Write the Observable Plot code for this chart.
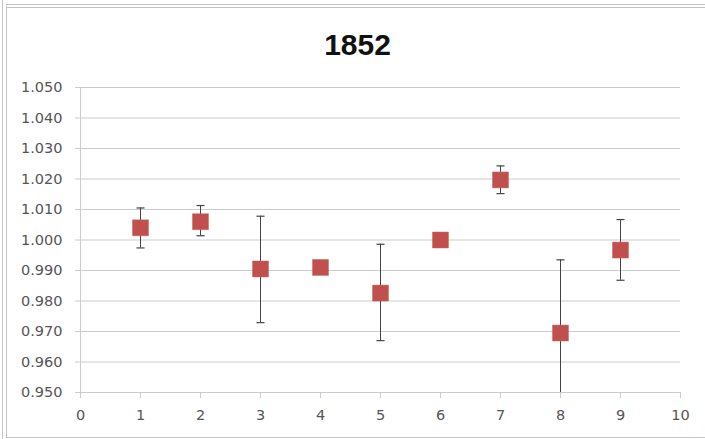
<!DOCTYPE html>
<html>
<head>
<meta charset="utf-8">
<script src="https://cdn.jsdelivr.net/npm/d3@7"></script>
<script src="https://cdn.jsdelivr.net/npm/@observablehq/plot@0.6"></script>
<style>
  html, body { margin: 0; padding: 0; background: #fff; }
  #wrap { position: relative; width: 705px; height: 439px; overflow: hidden; background: #fff; }
  #frame { position: absolute; left: 6px; top: 4px; width: 710px; height: 434px; border: 1px solid #c6c6c6; border-top: 4px double #c0c0c0; box-sizing: border-box; }
  #frame2 { position: absolute; left: 2px; top: 0px; width: 1px; height: 439px; background: #c6c6c6; }
  #title { position: absolute; left: 5px; top: 30px; width: 705px; text-align: center;
           font: bold 30px "Liberation Sans", Arial, sans-serif; line-height: 30px; color: #111; }
  #chart { position: absolute; left: 0; top: 0; }
</style>
</head>
<body>
<div id="wrap">
  <div id="frame2"></div>
  <div id="frame"></div>
  <div id="title">1852</div>
  <div id="chart"></div>
</div>
<script>
const xs = [1, 2, 3, 4, 5, 6, 7, 8, 9];
const values = [1.004, 1.006, 0.9905, 0.991, 0.9826, 1.000, 1.0197, 0.9695, 0.9967];
const errLow = [0.9974, 1.0014, 0.9729, null, 0.9670, null, 1.0152, 0.9455, 0.9868];
const errHigh = [1.0105, 1.0113, 1.0078, null, 0.9986, null, 1.0243, 0.9935, 1.0067];
const yTicks = [0.95, 0.96, 0.97, 0.98, 0.99, 1.00, 1.01, 1.02, 1.03, 1.04, 1.05];
const xTicks = [0, 1, 2, 3, 4, 5, 6, 7, 8, 9, 10];

const data = xs.map((x, i) => ({x, v: values[i], lo: errLow[i], hi: errHigh[i]}));
const errs = data.filter(d => d.lo != null);
const capHalf = 0.067;

const grid = "#cccccc";
const textCol = "#555555";

const chart = Plot.plot({
  width: 705,
  height: 439,
  marginLeft: 80,
  marginRight: 25,
  marginTop: 87,
  marginBottom: 47,
  style: {fontFamily: "'DejaVu Sans', sans-serif", fontSize: "14.5px", color: textCol, background: "transparent"},
  x: {domain: [0, 10], ticks: xTicks},
  y: {domain: [0.95, 1.05], ticks: yTicks},
  marks: [
    Plot.gridY(yTicks, {stroke: grid, strokeOpacity: 1}),
    Plot.axisY(yTicks, {tickFormat: d3.format(".3f"), tickSize: 5, tickPadding: 13, stroke: grid, strokeOpacity: 1, label: null, fill: textCol}),
    Plot.ruleX([0], {stroke: grid}),
    Plot.ruleY([0.95], {stroke: grid}),
    Plot.axisX(xTicks, {tickFormat: d3.format("d"), tickSize: 6, tickPadding: 11, stroke: grid, strokeOpacity: 1, label: null, fill: textCol}),
    Plot.ruleX(errs, {x: "x", y1: "lo", y2: "hi", stroke: "#444", strokeWidth: 1, clip: true}),
    Plot.link(errs, {x1: d => d.x - capHalf, x2: d => d.x + capHalf, y1: "hi", y2: "hi", stroke: "#444", strokeWidth: 1.2, clip: true}),
    Plot.link(errs, {x1: d => d.x - capHalf, x2: d => d.x + capHalf, y1: "lo", y2: "lo", stroke: "#444", strokeWidth: 1.2, clip: true}),
    Plot.dot(data, {x: "x", y: "v", symbol: "square", r: 9, fill: "#c0504d", stroke: "#c9605d", strokeWidth: 0.5})
  ]
});
document.getElementById("chart").appendChild(chart);
</script>
</body>
</html>
